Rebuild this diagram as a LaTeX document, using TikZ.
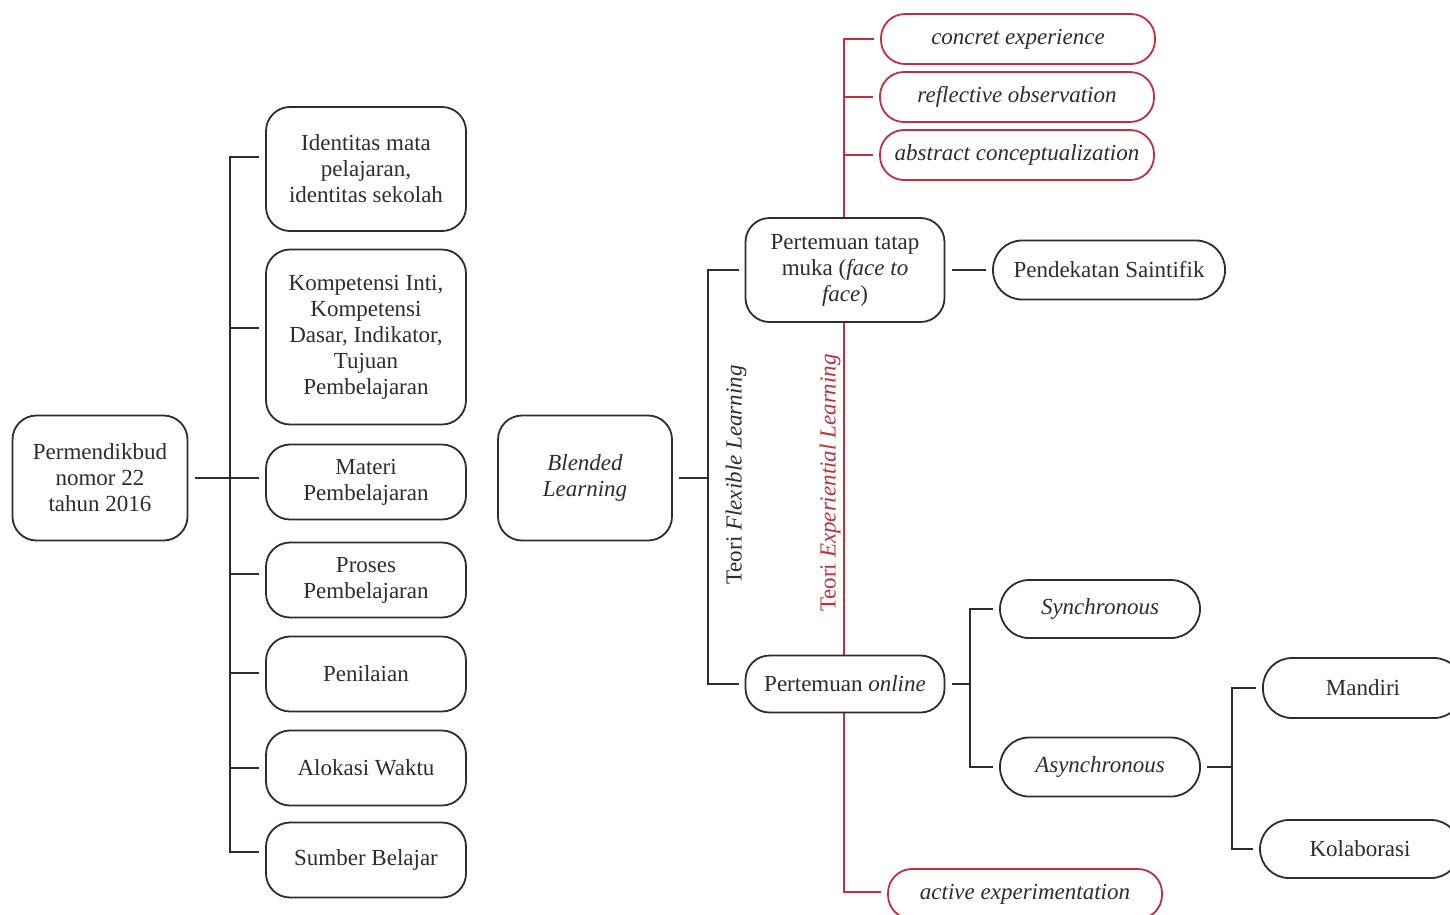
\documentclass[tikz,border=0pt]{standalone}
\usepackage{fontspec}
\setmainfont{Liberation Serif}
\usetikzlibrary{backgrounds}
\definecolor{ln}{RGB}{45,45,45}
\definecolor{rd}{RGB}{195,45,60}
\begin{document}
\begin{tikzpicture}[x=1pt,y=-1pt,
  box/.style={draw=ln, line width=1.8pt, rounded corners=24pt, fill=white, align=center,
    font=\fontsize{23}{26}\selectfont, text=ln, inner sep=0pt, outer sep=7pt},
  rpill/.style={box, draw=rd, rounded corners=24pt, minimum width=274pt, minimum height=50pt, font=\fontsize{23}{26}\selectfont\itshape},
  conn/.style={draw=ln, line width=1.8pt},
  rconn/.style={draw=rd, line width=1.8pt},
  vlab/.style={rotate=90, font=\fontsize{23}{26}\selectfont, inner sep=0pt}]
\useasboundingbox (0,0) rectangle (1450,914);

% left part
\node[box, minimum width=175pt, minimum height=125pt] (perm) at (100,478) {Permendikbud\\nomor 22\\tahun 2016};
\node[box, minimum width=200pt, minimum height=124pt] (b1) at (366,169) {Identitas mata\\pelajaran,\\identitas sekolah};
\node[box, minimum width=200pt, minimum height=175pt] (b2) at (366,337) {Kompetensi Inti,\\Kompetensi\\Dasar, Indikator,\\Tujuan\\Pembelajaran};
\node[box, minimum width=200pt, minimum height=75pt] (b3) at (366,482) {Materi\\Pembelajaran};
\node[box, minimum width=200pt, minimum height=75pt] (b4) at (366,580) {Proses\\Pembelajaran};
\node[box, minimum width=200pt, minimum height=75pt] (b5) at (366,674) {Penilaian};
\node[box, minimum width=200pt, minimum height=75pt] (b6) at (366,768) {Alokasi Waktu};
\node[box, minimum width=200pt, minimum height=75pt] (b7) at (366,860) {Sumber Belajar};

% middle
\node[box, minimum width=174pt, minimum height=125pt, font=\fontsize{23}{26}\selectfont\itshape] (bl) at (585,478) {Blended\\Learning};
\node[box, minimum width=199pt, minimum height=104pt] (ptm) at (845,270) {Pertemuan tatap\\muka (\textit{face to}\\\textit{face})};
\node[box, minimum width=199pt, minimum height=57pt] (pon) at (845,684) {Pertemuan \textit{online}};

% red pills
\node[rpill] (ce) at (1018,39) {concret experience};
\node[rpill] (ro) at (1017,97) {reflective observation};
\node[rpill] (ac) at (1017,155) {abstract conceptualization};
\node[rpill] (ae) at (1025,894) {active experimentation};

% right
\node[box, rounded corners=29pt, minimum width=232pt, minimum height=59pt] (ps) at (1109,270) {Pendekatan Saintifik};
\node[box, rounded corners=29pt, minimum width=200pt, minimum height=58pt, font=\fontsize{23}{26}\selectfont\itshape] (sy) at (1100,609) {Synchronous};
\node[box, rounded corners=29pt, minimum width=200pt, minimum height=59pt, font=\fontsize{23}{26}\selectfont\itshape] (as) at (1100,767) {Asynchronous};
\node[box, rounded corners=29pt, minimum width=200pt, minimum height=60pt] (ma) at (1363,688) {Mandiri};
\node[box, rounded corners=29pt, minimum width=200pt, minimum height=58pt] (ko) at (1360,849) {Kolaborasi};

% rotated labels
\node[vlab, text=ln] (tfl) at (736,475) {Teori \textit{Flexible Learning}};
\node[vlab, text=rd] (tel) at (830,483) {Teori \textit{Experiential Learning}};

% coordinates
\coordinate (L1) at (230,157);
\coordinate (L2) at (230,328);
\coordinate (L4) at (230,574);
\coordinate (L5) at (230,673);
\coordinate (L6) at (230,768);
\coordinate (L7) at (230,852);
\coordinate (F1) at (708,270);
\coordinate (F2) at (708,684);
\coordinate (R1) at (844,39);
\coordinate (R4) at (844,892);
\coordinate (O1) at (970,609);
\coordinate (O2) at (970,767);
\coordinate (A1) at (1232,688);
\coordinate (A2) at (1232,849);

\begin{scope}[on background layer]
  \fill[white] (0,0) rectangle (1450,914);
  \draw[rconn] (ce.west) -- (R1) -- (R4) -- (R4 -| ae.west);
  \draw[rconn] (ro.west) -- (ro.west -| R1);
  \draw[rconn] (ac.west) -- (ac.west -| R1);
\end{scope}

\draw[conn] (L1 -| b1.west) -- (L1) -- (L7) -- (L7 -| b7.west);
\draw[conn] (L2) -- (L2 -| b2.west);
\draw[conn] (perm.east) -- (perm.east -| b3.west);
\draw[conn] (L4) -- (L4 -| b4.west);
\draw[conn] (L5) -- (L5 -| b5.west);
\draw[conn] (L6) -- (L6 -| b6.west);

\draw[conn] (ptm.west) -- (F1) -- (F2) -- (pon.west);
\draw[conn] (bl.east) -- (bl.east -| F1);
\draw[conn] (ptm.east) -- (ps.west);

\draw[conn] (sy.west) -- (O1) -- (O2) -- (as.west);
\draw[conn] (pon.east) -- (pon.east -| O1);
\draw[conn] (ma.west) -- (A1) -- (A2) -- (ko.west);
\draw[conn] (as.east) -- (as.east -| A1);
\end{tikzpicture}
\end{document}
